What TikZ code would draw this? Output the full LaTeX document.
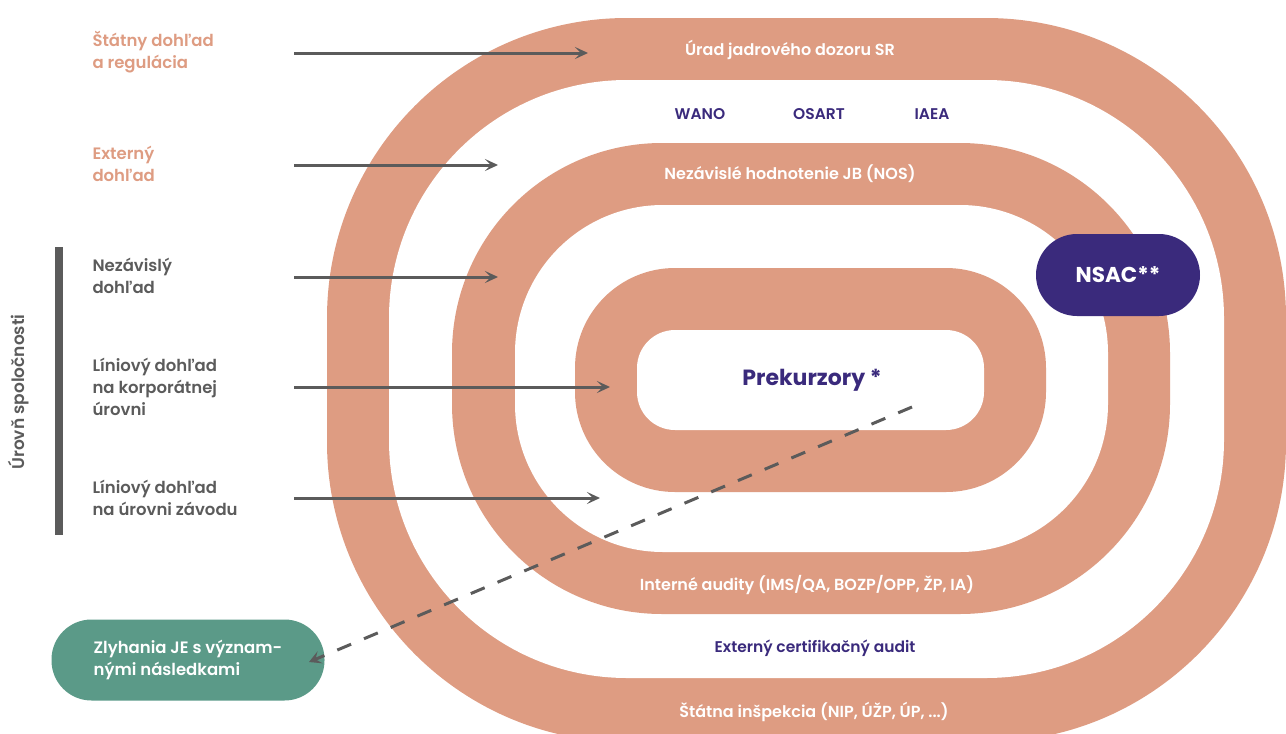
\documentclass[tikz,border=0pt]{standalone}
\usepackage{fontspec}
\setmainfont{Poppins}[UprightFont=* SemiBold, BoldFont=* Bold]
\usetikzlibrary{arrows.meta}
\definecolor{losos}{HTML}{DE9C82}
\definecolor{fialova}{HTML}{3A2A7C}
\definecolor{zelena}{HTML}{5B9A88}
\definecolor{seda}{HTML}{5B5B5B}

\begin{document}
\begin{tikzpicture}[x=1pt,y=-1pt,
  pas/.style={fill=losos},
  biela/.style={fill=white},
  nadpis/.style={text=white,font=\fontsize{16}{19}\selectfont},
  org/.style={text=fialova,font=\fontsize{15.5}{18}\selectfont},
  lav/.style={anchor=west,align=left,font=\fontsize{16.5}{22}\selectfont},
  sipka/.style={seda,line width=3pt,-{Stealth[length=13pt,width=12pt,inset=6pt]}},
 ]
\useasboundingbox (0,0) rectangle (1286,734);
\clip (0,0) rectangle (1286,734);

% pasy
\fill[pas,rounded corners=300pt] (327,18) rectangle (1286,742);
\fill[biela,rounded corners=238pt] (389,80) rectangle (1224,678);
\fill[pas,rounded corners=210pt] (452,143) rectangle (1170,614);
\fill[biela,rounded corners=148pt] (515,205) rectangle (1108,552);
\fill[pas,rounded corners=100pt] (575,268) rectangle (1046,492);
\fill[biela,rounded corners=38pt] (637,330) rectangle (984,430);

\node[nadpis] (ujd) at (790,50) {Úrad jadrového dozoru SR};
\node[org] (wano) at (700,114) {WANO};
\node[org] (osart) at (819,114) {OSART};
\node[org] (iaea) at (932,114) {IAEA};
\node[nadpis] (nos) at (790,174) {Nezávislé hodnotenie JB (NOS)};
\node[text=fialova,font=\fontsize{22}{28}\bfseries] (prekurzory) at (812,380) {Prekurzory *};
\node[nadpis] (audity) at (807,585) {Interné audity (IMS/QA, BOZP/OPP, ŽP, IA)};
\node[org] (certif) at (815,648) {Externý certifikačný audit};
\node[nadpis] (inspekcia) at (814,712) {Štátna inšpekcia (NIP, ÚŽP, ÚP, ...)};

\node[fill=fialova,text=white,rounded corners=41pt,minimum width=164pt,minimum height=82pt,
  font=\fontsize{21.5}{26}\bfseries] (nsac) at (1118,275) {NSAC**};
\node[fill=zelena,text=white,rounded corners=40pt,minimum width=273pt,minimum height=81pt,
  align=left,font=\fontsize{16.5}{22}\selectfont] (zlyhania) at (188,660)
  {Zlyhania JE s význam-\\nými následkami};

% lavy stlpec
\node[lav,text=losos] (statny) at (89,52) {Štátny dohľad\\a regulácia};
\node[lav,text=losos] (externy) at (89,164) {Externý\\dohľad};
\node[lav,text=seda] (nezavisly) at (89,276) {Nezávislý\\dohľad};
\node[lav,text=seda] (korp) at (89,387) {Líniový dohľad\\na korporátnej\\úrovni};
\node[lav,text=seda] (zavod) at (89,498) {Líniový dohľad\\na úrovni závodu};
\fill[seda] (55,247) rectangle (63,535);
\node[rotate=90,text=seda,font=\fontsize{17}{20}\selectfont] (uroven) at (19,392) {Úrovň spoločnosti};

\coordinate (s1) at (294,53);  \coordinate (e1) at (588,53);
\coordinate (s2) at (294,165); \coordinate (e2) at (498,165);
\coordinate (s3) at (294,277); \coordinate (e3) at (498,277);
\coordinate (s4) at (294,387); \coordinate (e4) at (610,387);
\coordinate (s5) at (294,498); \coordinate (e5) at (600,498);
\foreach \i in {1,...,5}
  \draw[sipka] (s\i) -- (e\i);

\coordinate (zdroj) at (912,407);
\coordinate (ciel) at (309,662);
\draw[seda,line width=3pt,dash pattern=on 15pt off 14pt,-{Stealth[length=12pt,width=13pt,inset=5pt]}] (zdroj) -- (ciel);
\end{tikzpicture}
\end{document}
